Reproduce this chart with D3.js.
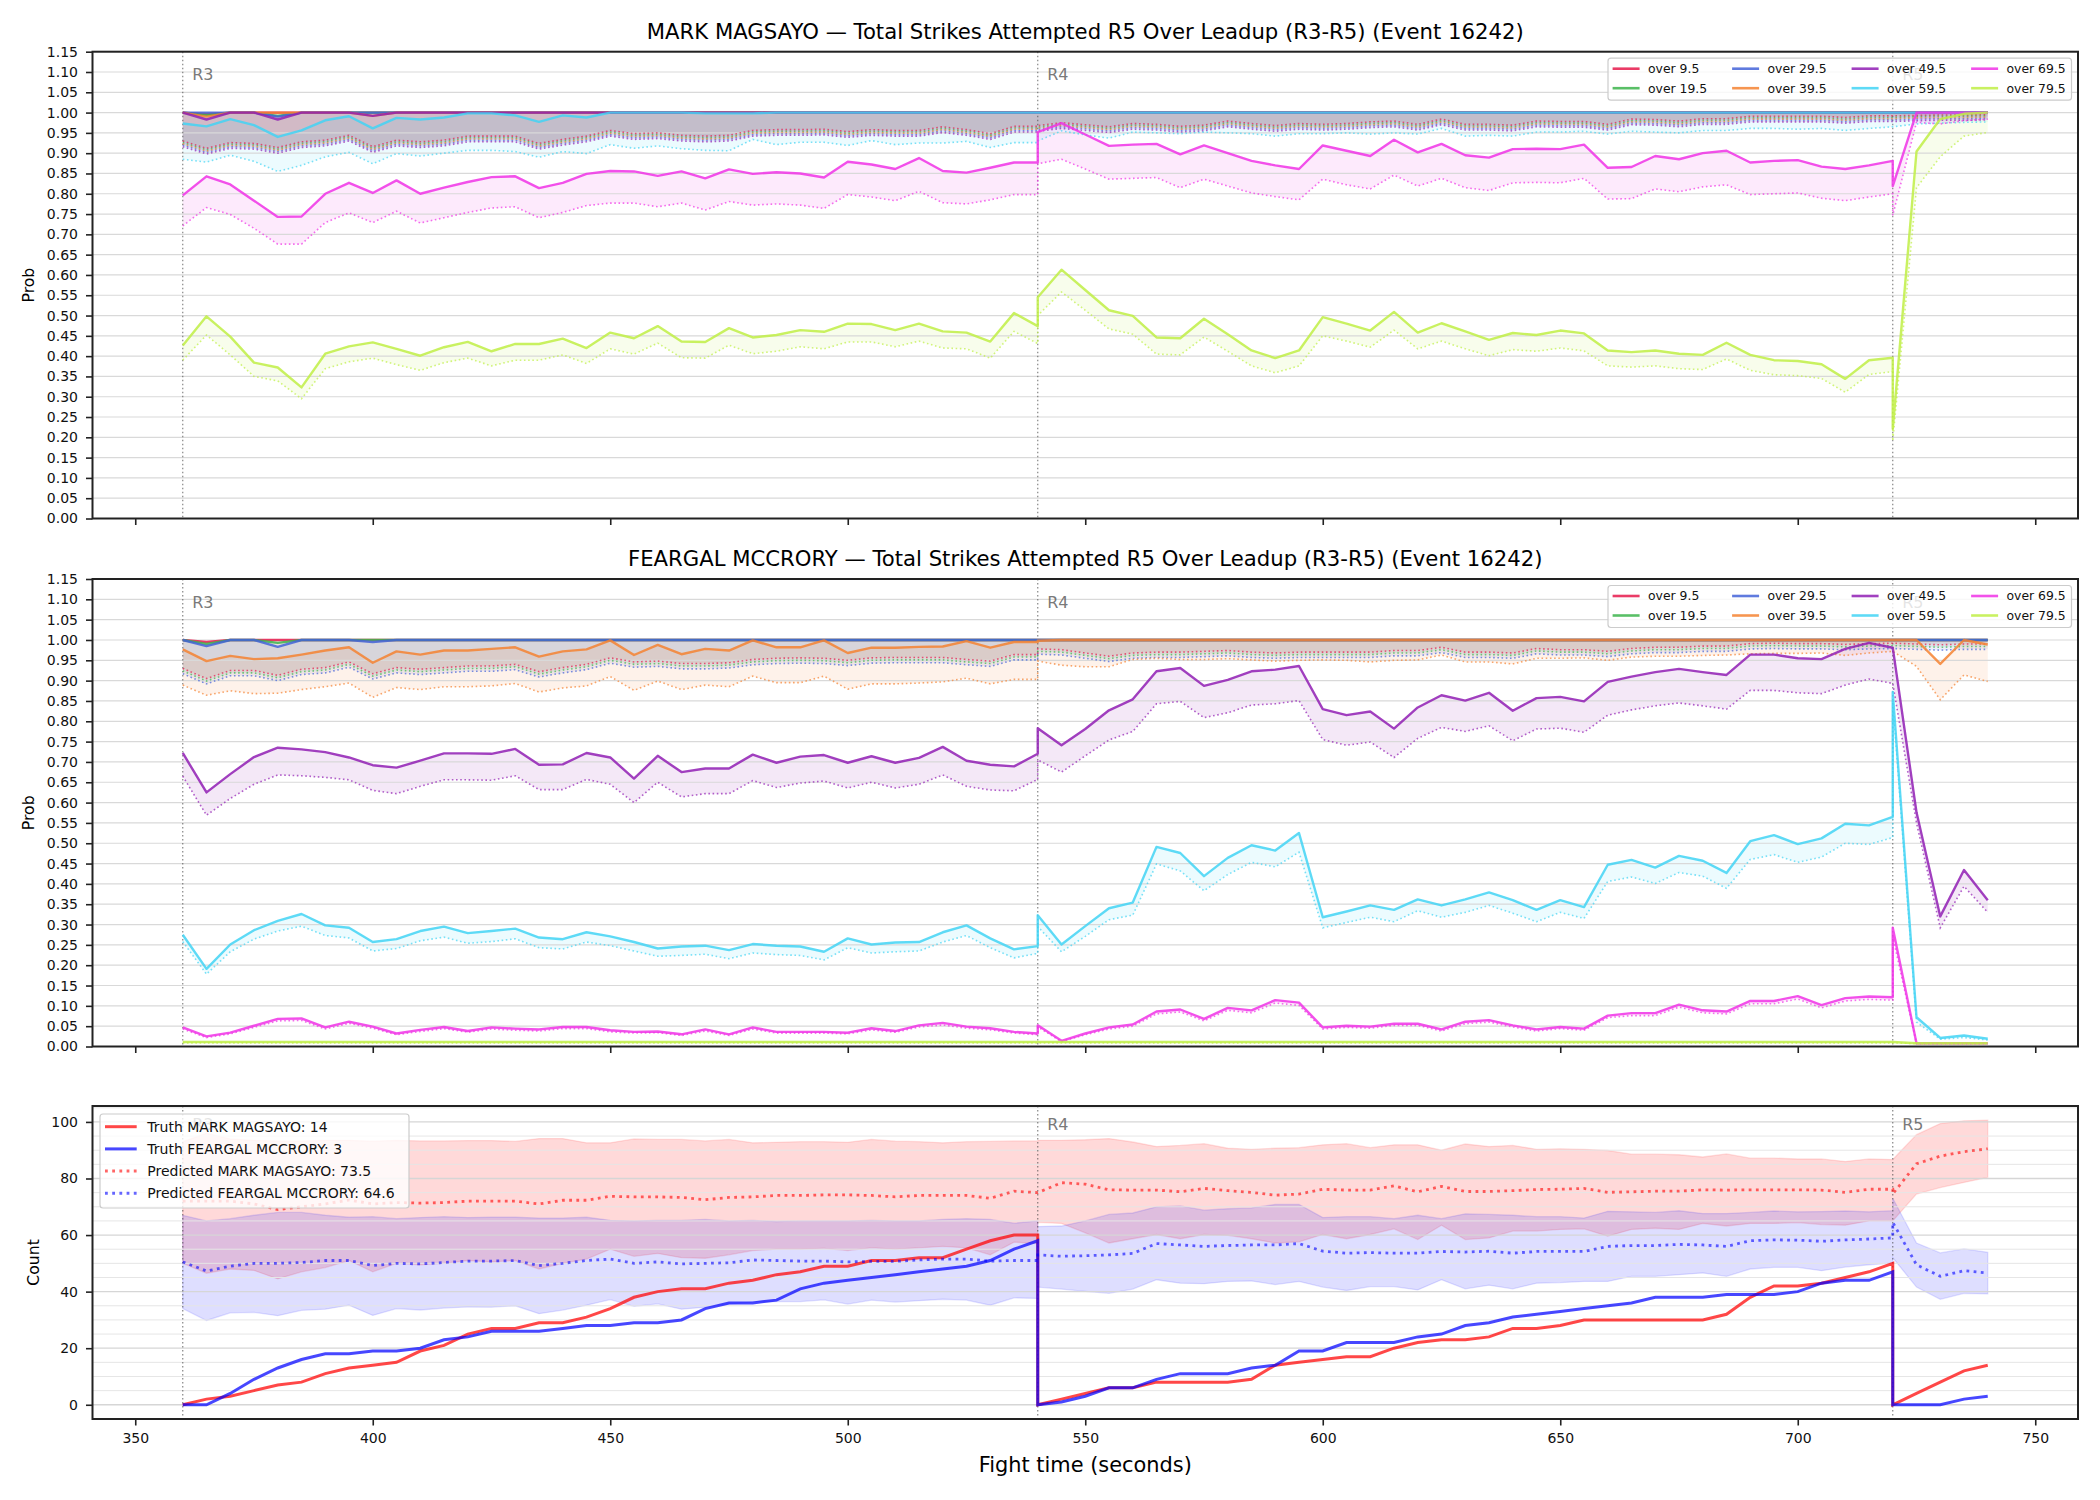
<!DOCTYPE html>
<html lang="en">
<head>
<meta charset="UTF-8">
<title>strikes attempted leadup</title>
<script src="https://cdn.jsdelivr.net/npm/d3@7"></script>
<style>
  * { padding: 0; margin: 0; }
  body { background: #fff; }
  svg { display: block; font-family: "DejaVu Sans", sans-serif; }
</style>
</head>
<body>
<svg id="chart" width="2100" height="1500"></svg>
<script>
// fight time, R3 | R4 | R5 (round boundaries appear twice)
const times = [
  360,365,370,375,380,385,390,395,400,405,410,415,420,425,430,435,440,445,450,455,
  460,465,470,475,480,485,490,495,500,505,510,515,520,525,530,535,540,
  540,545,550,555,560,565,570,575,580,585,590,595,600,605,610,615,620,625,630,635,
  640,645,650,655,660,665,670,675,680,685,690,695,700,705,710,715,720,
  720,725,730,735,740
]
const roundStarts = [360, 540, 720]
const roundNames = ['R3', 'R4', 'R5']
const thresholdLabels = ['over 9.5', 'over 19.5', 'over 29.5', 'over 39.5', 'over 49.5', 'over 59.5', 'over 69.5', 'over 79.5']
const thresholdColors = ['#e6194b', '#3cb44b', '#4363d8', '#f58231', '#911eb4', '#42d4f4', '#f032e6', '#bfef45']

// ---- MARK MAGSAYO probabilities (solid / dotted)
const mmSolid9 = [
  1,0.996,1,1,1,1,1,1,1,1, 1,1,1,1,1,1,1,1,1,1, 1,1,1,1,1,1,1,1,1,1, 1,1,1,1,1,1,1,
  1,1,1,1,1,1,1,1,1,1, 1,1,1,1,1,1,1,1,1,1, 1,1,1,1,1,1,1,1,1,1, 1,1,1,1,1,1,1,
  1,1,1,1,1]
const mmSolid19 = [
  1,0.994,1,1,0.992,1,1,1,1,1, 1,1,1,1,1,1,1,1,1,1, 1,1,1,1,1,1,1,1,1,1, 1,1,1,1,1,1,1,
  1,1,1,1,1,1,1,1,1,1, 1,1,1,1,1,1,1,1,1,1, 1,1,1,1,1,1,1,1,1,1, 1,1,1,1,1,1,1,
  1,1,1,1,1]
const mmSolid29 = [
  1,1,1,1,0.99,1,1,1,1,1, 1,1,1,1,1,1,1,1,1,1, 1,1,1,1,1,1,1,1,1,1, 1,1,1,1,1,1,1,
  1,1,1,1,1,1,1,1,1,1, 1,1,1,1,1,1,1,1,1,1, 1,1,1,1,1,1,1,1,1,1, 1,1,1,1,1,1,1,
  1,1,1,1,1]
const mmSolid39 = [
  1,0.99,1,1,1,1,1,1,0.992,1, 1,1,1,1,1,1,1,1,1,1, 1,1,1,1,1,1,1,1,1,1, 1,1,1,1,1,1,1,
  1,1,1,1,1,1,1,1,1,1, 1,1,1,1,1,1,1,1,1,1, 1,1,1,1,1,1,1,1,1,1, 1,1,1,1,1,1,1,
  1,1,1,1,1]
const mmSolid49 = [
  1,0.983,1,1,0.983,1,1,1,0.992,1, 1,1,1,1,1,1,1,1,1,1, 1,1,1,1,1,1,1,1,1,1, 1,1,1,1,1,1,1,
  1,1,1,1,1,1,1,1,1,1, 1,1,1,1,1,1,1,1,1,1, 1,1,1,1,1,1,1,1,1,1, 1,1,1,1,1,1,1,
  1,1,1,1,1]
const mmSolid59 = [
  0.973,0.966,0.984,0.969,0.940,0.956,0.981,0.991,0.961,0.987, 0.983,0.988,0.998,0.998,0.993,0.977,0.993,0.988,1,1,
  1,1,0.998,0.998,0.998,1,1,1,1,1, 1,1,1,1,1,1,1,
  1,1,1,1,1,1,1,1,1,1, 1,1,1,1,1,1,1,1,1,1, 1,1,1,1,1,1,1,1,1,1, 1,1,1,1,1,1,1,
  1,1,1,1,1]
const mmSolid69 = [
  0.796,0.843,0.823,0.783,0.743,0.744,0.800,0.827,0.802,0.833, 0.800,0.815,0.829,0.841,0.843,0.814,0.827,0.849,0.856,0.855,
  0.844,0.855,0.838,0.860,0.849,0.853,0.850,0.840,0.879,0.872, 0.861,0.888,0.856,0.852,0.864,0.877,0.877,
  0.952,0.974,0.946,0.918,0.921,0.923,0.897,0.919,0.900,0.881, 0.870,0.861,0.919,0.906,0.893,0.933,0.902,0.923,0.895,0.889,
  0.910,0.911,0.910,0.921,0.864,0.866,0.893,0.885,0.900,0.906, 0.877,0.881,0.883,0.867,0.861,0.870,0.881,
  0.819,1,1,1,1]
const mmSolid79 = [
  0.426,0.498,0.448,0.384,0.372,0.323,0.406,0.424,0.434,0.418, 0.401,0.422,0.435,0.412,0.430,0.430,0.443,0.420,0.458,0.444,
  0.474,0.436,0.435,0.469,0.446,0.452,0.464,0.460,0.480,0.479, 0.464,0.480,0.461,0.458,0.436,0.506,0.474,
  0.545,0.613,0.563,0.513,0.499,0.446,0.444,0.492,0.454,0.414, 0.395,0.414,0.496,0.480,0.463,0.509,0.458,0.481,0.461,0.440,
  0.457,0.452,0.463,0.456,0.414,0.410,0.414,0.406,0.403,0.433, 0.403,0.390,0.388,0.380,0.344,0.390,0.396,
  0.221,0.904,0.984,0.997,1.0]

const mmDot9 = [
  0.930,0.912,0.926,0.924,0.914,0.928,0.932,0.944,0.916,0.932, 0.928,0.932,0.942,0.942,0.942,0.924,0.934,0.942,0.956,0.948,
  0.950,0.944,0.942,0.944,0.956,0.958,0.958,0.959,0.953,0.958, 0.956,0.956,0.965,0.958,0.948,0.966,0.966,
  0.968,0.975,0.970,0.965,0.973,0.971,0.966,0.969,0.979,0.973, 0.968,0.973,0.971,0.973,0.977,0.979,0.971,0.984,0.971,0.971,
  0.969,0.979,0.978,0.978,0.971,0.984,0.983,0.979,0.985,0.985, 0.991,0.991,0.991,0.991,0.988,0.992,0.992,
  0.992,0.993,0.994,0.994,0.995]
const mmDot19 = [
  0.926,0.908,0.922,0.920,0.910,0.924,0.928,0.940,0.912,0.928, 0.924,0.928,0.938,0.938,0.938,0.920,0.930,0.938,0.952,0.944,
  0.946,0.940,0.938,0.940,0.952,0.954,0.954,0.955,0.949,0.954, 0.952,0.952,0.961,0.954,0.944,0.962,0.962,
  0.964,0.971,0.966,0.961,0.969,0.967,0.962,0.965,0.975,0.969, 0.964,0.969,0.967,0.969,0.973,0.975,0.967,0.980,0.967,0.967,
  0.965,0.975,0.974,0.974,0.967,0.980,0.979,0.975,0.981,0.981, 0.987,0.987,0.987,0.987,0.984,0.988,0.988,
  0.988,0.990,0.991,0.991,0.992]
const mmDot29 = [
  0.920,0.902,0.916,0.914,0.904,0.918,0.922,0.934,0.906,0.922, 0.918,0.922,0.932,0.932,0.932,0.914,0.924,0.932,0.946,0.938,
  0.940,0.934,0.932,0.934,0.946,0.948,0.948,0.949,0.943,0.948, 0.946,0.946,0.955,0.948,0.938,0.956,0.956,
  0.958,0.965,0.960,0.955,0.963,0.961,0.956,0.959,0.969,0.963, 0.958,0.963,0.961,0.963,0.967,0.969,0.961,0.974,0.961,0.961,
  0.959,0.969,0.968,0.968,0.961,0.974,0.973,0.969,0.975,0.975, 0.981,0.981,0.981,0.981,0.978,0.982,0.982,
  0.982,0.984,0.985,0.985,0.986]
const mmDot39 = [
  0.923,0.905,0.919,0.917,0.907,0.921,0.925,0.937,0.909,0.925, 0.921,0.925,0.935,0.935,0.935,0.917,0.927,0.935,0.949,0.941,
  0.943,0.937,0.935,0.937,0.949,0.951,0.951,0.952,0.946,0.951, 0.949,0.949,0.958,0.951,0.941,0.959,0.959,
  0.961,0.968,0.963,0.958,0.966,0.964,0.959,0.962,0.972,0.966, 0.961,0.966,0.964,0.966,0.970,0.972,0.964,0.977,0.964,0.964,
  0.962,0.972,0.971,0.971,0.964,0.977,0.976,0.972,0.978,0.978, 0.984,0.984,0.984,0.984,0.981,0.985,0.985,
  0.985,0.987,0.988,0.988,0.989]
const mmDot49 = [
  0.916,0.898,0.912,0.910,0.900,0.914,0.918,0.930,0.902,0.918, 0.914,0.918,0.928,0.928,0.928,0.910,0.920,0.928,0.942,0.934,
  0.936,0.930,0.928,0.930,0.942,0.944,0.944,0.945,0.939,0.944, 0.942,0.942,0.951,0.944,0.934,0.952,0.952,
  0.954,0.961,0.956,0.951,0.959,0.957,0.952,0.955,0.965,0.959, 0.954,0.959,0.957,0.959,0.963,0.965,0.957,0.970,0.957,0.957,
  0.955,0.965,0.964,0.964,0.957,0.970,0.969,0.965,0.971,0.971, 0.977,0.977,0.977,0.977,0.974,0.978,0.978,
  0.978,0.980,0.981,0.981,0.982]
const mmDot59 = [
  0.885,0.878,0.895,0.880,0.855,0.870,0.891,0.902,0.874,0.899, 0.893,0.900,0.907,0.907,0.904,0.890,0.904,0.899,0.921,0.912,
  0.918,0.911,0.907,0.906,0.934,0.921,0.927,0.927,0.919,0.931, 0.921,0.925,0.925,0.929,0.914,0.926,0.926,
  0.930,0.955,0.945,0.937,0.952,0.950,0.948,0.952,0.950,0.948, 0.942,0.948,0.948,0.950,0.947,0.950,0.947,0.961,0.942,0.944,
  0.942,0.952,0.952,0.954,0.947,0.954,0.952,0.950,0.956,0.956, 0.961,0.961,0.959,0.961,0.956,0.961,0.965,
  0.965,0.972,0.974,0.976,0.977]
const mmDot69 = [
  0.721,0.766,0.749,0.715,0.676,0.676,0.729,0.753,0.729,0.757, 0.728,0.741,0.754,0.765,0.768,0.741,0.754,0.771,0.777,0.777,
  0.768,0.777,0.760,0.781,0.772,0.775,0.772,0.764,0.798,0.792, 0.783,0.806,0.778,0.775,0.785,0.798,0.798,
  0.874,0.885,0.861,0.836,0.838,0.840,0.815,0.836,0.819,0.802, 0.793,0.785,0.836,0.822,0.812,0.846,0.819,0.838,0.815,0.808,
  0.827,0.828,0.827,0.838,0.787,0.788,0.812,0.805,0.817,0.822, 0.798,0.800,0.802,0.789,0.783,0.792,0.800,
  0.747,0.976,0.972,0.980,0.984]
const mmDot79 = [
  0.390,0.452,0.403,0.350,0.339,0.295,0.369,0.386,0.395,0.379, 0.365,0.384,0.395,0.376,0.390,0.390,0.403,0.382,0.418,0.405,
  0.432,0.396,0.395,0.427,0.406,0.412,0.423,0.418,0.435,0.435, 0.423,0.437,0.420,0.418,0.395,0.461,0.431,
  0.500,0.558,0.513,0.467,0.454,0.405,0.403,0.447,0.412,0.376, 0.359,0.376,0.450,0.437,0.422,0.464,0.418,0.437,0.418,0.401,
  0.416,0.412,0.420,0.413,0.376,0.373,0.376,0.369,0.367,0.393, 0.365,0.354,0.352,0.345,0.311,0.355,0.362,
  0.191,0.815,0.891,0.942,0.951]

// ---- FEARGAL MCCRORY probabilities (solid / dotted)
const fmSolid9 = [
  1,0.995,1,1,1,1,1,1,1,1, 1,1,1,1,1,1,1,1,1,1, 1,1,1,1,1,1,1,1,1,1, 1,1,1,1,1,1,1,
  1,1,1,1,1,1,1,1,1,1, 1,1,1,1,1,1,1,1,1,1, 1,1,1,1,1,1,1,1,1,1, 1,1,1,1,1,1,1,
  1,1,1,1,1]
const fmSolid19 = [
  1,0.99,1,1,0.993,1,1,1,1,1, 1,1,1,1,1,1,1,1,1,1, 1,1,1,1,1,1,1,1,1,1, 1,1,1,1,1,1,1,
  1,1,1,1,1,1,1,1,1,1, 1,1,1,1,1,1,1,1,1,1, 1,1,1,1,1,1,1,1,1,1, 1,1,1,1,1,1,1,
  1,1,1,1,1]
const fmSolid29 = [
  1,0.985,1,1,0.983,1,1,1,0.995,1, 1,1,1,1,1,1,1,1,1,1, 1,1,1,1,1,1,1,1,1,1, 1,1,1,1,1,1,1,
  1,1,1,1,1,1,1,1,1,1, 1,1,1,1,1,1,1,1,1,1, 1,1,1,1,1,1,1,1,1,1, 1,1,1,1,1,1,1,
  1,1,1,1,1]
const fmSolid39 = [
  0.977,0.948,0.961,0.953,0.955,0.964,0.974,0.982,0.944,0.972, 0.964,0.974,0.974,0.978,0.982,0.959,0.972,0.977,0.999,0.963,
  0.988,0.965,0.978,0.974,0.999,0.982,0.982,0.999,0.968,0.981, 0.981,0.983,0.984,0.997,0.981,0.995,0.995,
  0.998,1,1,1,1,1,1,1,1,1, 1,1,1,1,1,1,1,1,1,1, 1,1,1,1,1,1,1,1,1,1, 1,1,1,1,1,1,1,
  1,1,0.941,1,0.989]
const fmSolid49 = [
  0.722,0.625,0.670,0.712,0.735,0.731,0.724,0.711,0.692,0.686, 0.703,0.721,0.721,0.720,0.732,0.693,0.694,0.722,0.711,0.659,
  0.715,0.675,0.684,0.684,0.718,0.698,0.713,0.717,0.698,0.714, 0.698,0.710,0.737,0.703,0.693,0.689,0.720,
  0.783,0.741,0.781,0.827,0.854,0.923,0.931,0.887,0.902,0.923, 0.927,0.936,0.830,0.815,0.824,0.782,0.834,0.864,0.851,0.870,
  0.826,0.857,0.860,0.849,0.897,0.910,0.921,0.929,0.921,0.914, 0.964,0.964,0.955,0.953,0.978,0.993,0.981,
  0.981,0.576,0.320,0.434,0.360]
const fmSolid59 = [
  0.275,0.191,0.251,0.286,0.309,0.326,0.298,0.292,0.257,0.264, 0.284,0.295,0.279,0.284,0.290,0.268,0.264,0.281,0.271,0.257,
  0.241,0.246,0.248,0.237,0.252,0.248,0.246,0.233,0.266,0.251, 0.256,0.257,0.281,0.298,0.266,0.239,0.247,
  0.323,0.251,0.296,0.340,0.354,0.491,0.476,0.419,0.464,0.495, 0.482,0.525,0.318,0.332,0.347,0.336,0.362,0.347,0.362,0.379,
  0.360,0.336,0.360,0.343,0.447,0.459,0.440,0.469,0.457,0.427, 0.505,0.520,0.498,0.512,0.548,0.544,0.565,
  0.872,0.072,0.021,0.027,0.019]
const fmSolid69 = [
  0.047,0.025,0.034,0.051,0.068,0.069,0.047,0.061,0.049,0.032, 0.041,0.048,0.038,0.047,0.044,0.042,0.048,0.048,0.040,0.036,
  0.037,0.030,0.042,0.030,0.047,0.036,0.036,0.036,0.034,0.045, 0.038,0.052,0.058,0.049,0.045,0.036,0.032,
  0.052,0.014,0.032,0.047,0.054,0.086,0.091,0.068,0.095,0.089, 0.114,0.108,0.047,0.051,0.049,0.056,0.056,0.042,0.061,0.065,
  0.052,0.042,0.048,0.044,0.076,0.082,0.082,0.103,0.089,0.086, 0.112,0.112,0.124,0.102,0.119,0.123,0.121,
  0.292,0.008,0.008,0.008,0.008]
const fmSolid79 = [
  0.011,0.011,0.011,0.011,0.011,0.011,0.011,0.011,0.011,0.011, 0.011,0.011,0.011,0.011,0.011,0.011,0.011,0.011,0.011,0.011,
  0.011,0.011,0.011,0.011,0.011,0.011,0.011,0.011,0.011,0.011, 0.011,0.011,0.011,0.011,0.011,0.011,0.011,
  0.011,0.011,0.011,0.011,0.011,0.011,0.011,0.011,0.011,0.011, 0.011,0.011,0.011,0.011,0.011,0.011,0.011,0.011,0.011,0.011,
  0.011,0.011,0.011,0.011,0.011,0.011,0.011,0.011,0.011,0.011, 0.011,0.011,0.011,0.011,0.011,0.011,0.011,
  0.011,0.008,0.008,0.008,0.008]

const fmDot9 = [
  0.930,0.905,0.925,0.925,0.913,0.928,0.932,0.946,0.917,0.932, 0.928,0.932,0.936,0.936,0.940,0.922,0.932,0.940,0.956,0.946,
  0.948,0.942,0.942,0.944,0.952,0.955,0.956,0.955,0.950,0.956, 0.957,0.957,0.957,0.952,0.948,0.964,0.964,
  0.978,0.976,0.968,0.960,0.968,0.970,0.970,0.972,0.974,0.970, 0.968,0.970,0.970,0.970,0.970,0.974,0.974,0.982,0.970,0.970,
  0.968,0.979,0.976,0.976,0.972,0.979,0.982,0.982,0.985,0.985, 0.991,0.992,0.991,0.991,0.989,0.991,0.992,
  0.992,0.990,0.988,0.990,0.990]
const fmDot19 = [
  0.924,0.899,0.919,0.919,0.907,0.922,0.926,0.940,0.911,0.926, 0.922,0.926,0.930,0.930,0.934,0.916,0.926,0.934,0.950,0.940,
  0.942,0.936,0.936,0.938,0.946,0.949,0.950,0.949,0.944,0.950, 0.951,0.951,0.951,0.946,0.942,0.958,0.958,
  0.972,0.970,0.962,0.954,0.962,0.964,0.964,0.966,0.968,0.964, 0.962,0.964,0.964,0.964,0.964,0.968,0.968,0.976,0.964,0.964,
  0.962,0.973,0.970,0.970,0.966,0.973,0.976,0.976,0.979,0.979, 0.985,0.986,0.985,0.985,0.983,0.985,0.986,
  0.986,0.984,0.982,0.984,0.984]
const fmDot29 = [
  0.917,0.892,0.912,0.912,0.900,0.915,0.919,0.933,0.904,0.919, 0.915,0.919,0.923,0.923,0.927,0.909,0.919,0.927,0.943,0.933,
  0.935,0.929,0.929,0.931,0.939,0.942,0.943,0.942,0.937,0.943, 0.944,0.944,0.944,0.939,0.935,0.951,0.951,
  0.965,0.963,0.955,0.947,0.955,0.957,0.957,0.959,0.961,0.957, 0.955,0.957,0.957,0.957,0.957,0.961,0.961,0.969,0.957,0.957,
  0.955,0.966,0.963,0.963,0.959,0.966,0.969,0.969,0.972,0.972, 0.978,0.979,0.978,0.978,0.976,0.978,0.979,
  0.979,0.977,0.975,0.977,0.977]
const fmDot39 = [
  0.889,0.864,0.875,0.868,0.869,0.878,0.885,0.894,0.859,0.883, 0.878,0.885,0.885,0.887,0.893,0.872,0.882,0.887,0.910,0.876,
  0.899,0.878,0.889,0.885,0.911,0.895,0.895,0.911,0.879,0.892, 0.892,0.894,0.897,0.906,0.892,0.903,0.903,
  0.948,0.938,0.934,0.934,0.952,0.955,0.952,0.952,0.954,0.951, 0.948,0.950,0.951,0.950,0.946,0.950,0.951,0.963,0.946,0.946,
  0.941,0.955,0.955,0.956,0.950,0.958,0.960,0.960,0.962,0.963, 0.966,0.967,0.967,0.968,0.962,0.968,0.972,
  0.972,0.935,0.853,0.914,0.898]
const fmDot49 = [
  0.665,0.569,0.610,0.645,0.668,0.666,0.662,0.656,0.630,0.622, 0.640,0.656,0.656,0.655,0.666,0.632,0.632,0.657,0.645,0.600,
  0.650,0.614,0.622,0.622,0.654,0.637,0.648,0.653,0.636,0.650, 0.636,0.645,0.668,0.640,0.631,0.629,0.657,
  0.705,0.675,0.715,0.754,0.775,0.843,0.849,0.809,0.821,0.840, 0.843,0.851,0.755,0.741,0.749,0.711,0.758,0.785,0.775,0.789,
  0.752,0.781,0.783,0.773,0.815,0.828,0.838,0.845,0.838,0.830, 0.876,0.876,0.870,0.868,0.889,0.904,0.893,
  0.893,0.550,0.292,0.394,0.330]
const fmDot59 = [
  0.258,0.178,0.233,0.264,0.284,0.296,0.273,0.267,0.235,0.241, 0.260,0.269,0.254,0.258,0.265,0.243,0.240,0.257,0.248,0.235,
  0.222,0.224,0.227,0.216,0.230,0.226,0.224,0.213,0.243,0.230, 0.233,0.235,0.257,0.273,0.243,0.218,0.229,
  0.295,0.233,0.271,0.312,0.323,0.449,0.432,0.383,0.423,0.453, 0.442,0.478,0.292,0.305,0.318,0.307,0.334,0.318,0.330,0.347,
  0.328,0.307,0.330,0.315,0.406,0.417,0.401,0.428,0.419,0.389, 0.460,0.472,0.453,0.466,0.500,0.497,0.514,
  0.850,0.060,0.018,0.022,0.016]
const fmDot69 = [
  0.043,0.022,0.031,0.047,0.063,0.064,0.043,0.057,0.045,0.029, 0.037,0.044,0.035,0.043,0.040,0.038,0.044,0.044,0.036,0.033,
  0.034,0.027,0.038,0.027,0.043,0.033,0.033,0.033,0.031,0.041, 0.035,0.048,0.053,0.045,0.041,0.033,0.029,
  0.048,0.012,0.029,0.043,0.050,0.080,0.085,0.063,0.089,0.083, 0.107,0.101,0.043,0.047,0.045,0.052,0.052,0.038,0.056,0.060,
  0.048,0.038,0.044,0.040,0.071,0.076,0.076,0.097,0.083,0.080, 0.105,0.105,0.117,0.095,0.112,0.116,0.114,
  0.270,0.007,0.007,0.007,0.007]
const fmDot79 = [
  0.009,0.009,0.009,0.009,0.009,0.009,0.009,0.009,0.009,0.009, 0.009,0.009,0.009,0.009,0.009,0.009,0.009,0.009,0.009,0.009,
  0.009,0.009,0.009,0.009,0.009,0.009,0.009,0.009,0.009,0.009, 0.009,0.009,0.009,0.009,0.009,0.009,0.009,
  0.009,0.009,0.009,0.009,0.009,0.009,0.009,0.009,0.009,0.009, 0.009,0.009,0.009,0.009,0.009,0.009,0.009,0.009,0.009,0.009,
  0.009,0.009,0.009,0.009,0.009,0.009,0.009,0.009,0.009,0.009, 0.009,0.009,0.009,0.009,0.009,0.009,0.009,
  0.009,0.007,0.007,0.007,0.007]

// ---- counts
const truthMagsayo = [
  0,2,3,5,7,8,11,13,14,15, 19,21,25,27,27,29,29,31,34,38, 40,41,41,43,44,46,47,49,49,51, 51,52,52,55,58,60,60,
  0,2,4,6,6,8,8,8,8,9, 14,15,16,17,17,20,22,23,23,24, 27,27,28,30,30,30,30,30,30,32, 38,42,42,43,45,47,50,
  0,4,8,12,14]
const truthMccrory = [
  0,0,4,9,13,16,18,18,19,19, 20,23,24,26,26,26,27,28,28,29, 29,30,34,36,36,37,41,43,44,45, 46,47,48,49,51,55,58,
  0,1,3,6,6,9,11,11,11,13, 14,19,19,22,22,22,24,25,28,29, 31,32,33,34,35,36,38,38,38,39, 39,39,40,43,44,44,47,
  0,0,0,2,3]
const predMagsayo = [
  72,72,72,71,69,70,71,72.4,71,71.5, 71.3,71.5,72,72,72,71,72.3,72.3,73.7,73.5, 73.5,73.3,72.5,73.3,73.5,74,74,74.2,74.2,74,
  73.5,74,74,74,73,75.5,75,
  75,78.5,78,76,75.9,75.9,75.3,76.5,75.7,75.1, 74.1,74.5,76.2,75.9,75.9,77.4,75.3,77.2,75.4,75.4, 75.7,76.1,76.2,76.5,75.1,75.3,75.5,75.5,76,75.9,
  76,76,76,75.9,75.1,76.2,76.2,
  74.5,85.2,87.9,89.5,90.5]
const predMccrory = [
  50.5,47.3,49,50,50,50.3,51,51,49.2,50, 49.8,50.3,50.8,50.8,51,49.2,50,51,51.5,50, 50.5,49.8,50,50.2,51.2,51,50.8,50.8,50.5,50.7,
  50.7,51.2,51.5,51.5,50.8,51,51,
  53,52.5,52.7,53,53.5,57,56.5,56,56.3,56.5, 56.5,57,54.3,53.6,53.8,53.6,53.6,54.2,54,54.3, 53.6,54.2,54.2,54.2,56,56.3,56.3,56.7,56.5,56,
  58,58.3,58.2,57.8,58.3,58.6,59,
  64.5,49.5,45.4,47.4,46.6]
const magsayoLow = [
  50,46.5,48,47.5,44.5,47,48.5,51,47,50, 49.5,50,51,50.5,51,48,50,51.5,55,52.5, 53.5,52,51.8,53,54.5,55,55,55.3,54.5,55.5,
  55,55.5,56,55.5,53,57.5,57,
  64.5,64.1,60.8,57.2,58.7,60.2,58.7,60.2,59.9,58.7, 57.2,57.6,60.2,58.7,60.2,62.2,58.4,63.5,58.4,59, 61.4,61.4,62,62.2,59.6,62,62.4,62,64.1,63.2,
  64.1,64.1,64.4,63.7,63.5,65,65,
  65,74.5,76.8,78.6,80.4]
const magsayoHigh = [
  93,96,94,93.5,93.3,93.3,93.5,93.5,93.2,93.5, 93.3,93.3,93.4,93.4,93.1,94.1,94.1,92.6,92.6,94, 93.8,93.8,93.3,93.8,92.6,92.8,93,93,92.8,93.8,
  93.2,93,92.6,93,93.1,93.3,93.3,
  93.5,93.5,93.7,94.1,92.9,91.3,91.7,92.3,90.7,90.3, 90.7,90.9,91.9,92.3,90.9,91.9,91.9,90,92.2,91.3, 91.7,90.3,90.5,90.3,89.9,88.6,88.6,88.4,87.6,88.7,
  87.2,87.2,86.9,86.9,86,86.9,86.7,
  86.7,95.5,99.4,100.4,100.6]
const mccroryLow = [
  34,29.8,32.5,32.7,31.5,33.4,33.8,35.2,31.6,34, 33.5,34.2,34.6,34.5,35,32.2,33.5,35.2,37.2,34.8, 35.7,33.8,34.5,35.6,36.3,36.5,36.5,37.1,35.6,37,
  36.3,36.8,37.3,37,35.2,37.8,37.6,
  41.6,40.9,40.1,39.4,40.9,44.2,43,42.8,43.6,43.8, 42.5,43.6,41.6,40.4,41.8,41.8,40.6,44.2,41,42.3, 41,43,43.2,43.6,43.6,45.4,45.4,46,46.6,45.4,
  48,48.6,48.6,47.4,48.7,49.5,50.1,
  52,41.6,37.3,39.4,39.2]
const mccroryHigh = [
  67,65,65.8,67,68,68,67,66.3,66.5,65.8, 66.2,66.5,66.2,66.3,66.3,66,66,66.3,65.2,65, 65.2,65.2,65.5,65,65.2,64.8,65,65,65,65.2,
  65,65,65.5,65.8,65.5,64.2,65,
  63,63.2,65,67.3,67.8,70,70.3,68.8,69.3,69.6, 70.8,70.8,66.2,66.5,66.5,65.8,67,65.8,67.5,67.3, 67,66.5,66.5,66,68.4,68.2,68,68.6,67.6,67.6,
  68,68.5,68.2,68.3,68.5,68.2,68.6,
  73,57.2,53.7,55.1,53.9]

const xTicks = [350, 400, 450, 500, 550, 600, 650, 700, 750]

const plotLeft = 92.5, plotRight = 2078
const svg = d3.select('#chart')
const tExt = d3.extent(times)
const pad = (tExt[1] - tExt[0]) * 0.05
const x = d3.scaleLinear().domain([tExt[0] - pad, tExt[1] + pad]).range([plotLeft, plotRight])

function roundMarkers (g, top, height) {
  g.append('g').selectAll('line').data(roundStarts).join('line')
    .attr('x1', d => x(d)).attr('x2', d => x(d))
    .attr('y1', top).attr('y2', top + height)
    .attr('stroke', '#444').attr('stroke-opacity', 0.65)
    .attr('stroke-width', 1.2).attr('stroke-dasharray', '1.5,2.5')
}

function roundLabels (g, top, height) {
  g.append('g').selectAll('text').data(roundStarts).join('text')
    .attr('x', d => x(d + 2))
    .attr('y', top + height * 0.03 + 14.5)
    .attr('fill', '#555').attr('fill-opacity', 0.8)
    .style('font-size', '16px')
    .text((d, i) => roundNames[i])
}

function drawFrame (g, top, height, y, yTickValues, yFormat, showXLabels) {
  const ya = g.append('g').attr('transform', `translate(${plotLeft},0)`)
    .call(d3.axisLeft(y).tickValues(yTickValues).tickFormat(yFormat).tickSize(6.5).tickPadding(8))
  const xa = g.append('g').attr('transform', `translate(0,${top + height})`)
    .call(d3.axisBottom(x).tickValues(xTicks).tickFormat(showXLabels ? d3.format('d') : () => '').tickSize(6.5).tickPadding(8))
  for (const a of [ya, xa]) {
    a.select('.domain').remove()
    a.selectAll('line').attr('stroke', '#222').attr('stroke-width', 1.6)
    a.selectAll('text').attr('fill', '#111').style('font-size', '14px').style('font-family', '"DejaVu Sans", sans-serif')
  }
  g.append('rect').attr('x', plotLeft).attr('y', top)
    .attr('width', plotRight - plotLeft).attr('height', height)
    .attr('fill', 'none').attr('stroke', '#222').attr('stroke-width', 2)
}

function drawTitles (g, top, height, title, ylabel, ylabelX) {
  g.append('text').attr('x', (plotLeft + plotRight) / 2).attr('y', top - 13)
    .attr('text-anchor', 'middle').style('font-size', '21.2px').attr('fill', '#000').text(title)
  g.append('text')
    .attr('transform', `translate(${ylabelX},${top + height / 2}) rotate(-90)`)
    .attr('text-anchor', 'middle').style('font-size', '15.7px').attr('fill', '#000').text(ylabel)
}

function drawProbPanel (top, height, title, solids, dots) {
  const g = svg.append('g')
  const y = d3.scaleLinear().domain([0, 1.15]).range([top + height, top])
  const yTicks = d3.range(0, 24).map(i => +(i * 0.05).toFixed(2))

  g.append('defs').append('clipPath').attr('id', 'clip' + Math.round(top))
    .append('rect').attr('x', plotLeft).attr('y', top).attr('width', plotRight - plotLeft).attr('height', height)
  const plot = g.append('g').attr('clip-path', `url(#clip${Math.round(top)})`)

  const rowsOf = k => times.map((t, i) => ({ t, s: solids[k][i], d: dots[k][i] }))
  const area = d3.area().x(d => x(d.t)).y0(d => y(d.d)).y1(d => y(d.s))
  const solidLine = d3.line().x(d => x(d.t)).y(d => y(d.s))
  const dotLine = d3.line().x(d => x(d.t)).y(d => y(d.d))

  // fills sit under the grid, lines above
  thresholdColors.forEach((c, k) => {
    plot.append('path').datum(rowsOf(k)).attr('d', area).attr('fill', c).attr('fill-opacity', 0.1)
  })
  plot.append('g').selectAll('line').data(yTicks).join('line')
    .attr('x1', plotLeft).attr('x2', plotRight)
    .attr('y1', d => y(d)).attr('y2', d => y(d))
    .attr('stroke', '#d9d9d9').attr('stroke-width', 1.2)
  roundMarkers(plot, top, height)
  thresholdColors.forEach((c, k) => {
    const rows = rowsOf(k)
    plot.append('path').datum(rows).attr('d', solidLine)
      .attr('fill', 'none').attr('stroke', c).attr('stroke-opacity', 0.85).attr('stroke-width', 2.4)
      .attr('stroke-linejoin', 'round')
    plot.append('path').datum(rows).attr('d', dotLine)
      .attr('fill', 'none').attr('stroke', c).attr('stroke-opacity', 0.7).attr('stroke-width', 1.6)
      .attr('stroke-dasharray', '1.6,2.6')
  })
  roundLabels(plot, top, height)

  // legend, 4 columns
  const bw = 463.5, bh = 42
  const bx = plotRight - 6.5 - bw, by = top + 6.5
  const lg = g.append('g')
  lg.append('rect').attr('x', bx).attr('y', by).attr('width', bw).attr('height', bh).attr('rx', 3)
    .attr('fill', '#fff').attr('fill-opacity', 0.8).attr('stroke', '#cccccc').attr('stroke-width', 1.2)
  thresholdLabels.forEach((lab, k) => {
    const lx = bx + 4.6 + Math.floor(k / 2) * 119.5
    const ly = by + 10.5 + (k % 2) * 19.5
    lg.append('line').attr('x1', lx).attr('x2', lx + 27).attr('y1', ly).attr('y2', ly)
      .attr('stroke', thresholdColors[k]).attr('stroke-opacity', 0.85).attr('stroke-width', 2.6)
    lg.append('text').attr('x', lx + 35.4).attr('y', ly).attr('dy', '0.35em')
      .style('font-size', '12.4px').attr('fill', '#111').text(lab)
  })

  drawFrame(g, top, height, y, yTicks, d3.format('.2f'), false)
  drawTitles(g, top, height, title, 'Prob', 34)
}

function drawCountPanel (top, height) {
  const g = svg.append('g')
  const all = [].concat(truthMagsayo, truthMccrory, magsayoLow, magsayoHigh, mccroryLow, mccroryHigh)
  const ext = d3.extent(all)
  const m = (ext[1] - ext[0]) * 0.05
  const y = d3.scaleLinear().domain([ext[0] - m, ext[1] + m]).range([top + height, top])
  const rows = times.map((t, i) => ({
    t, ta: truthMagsayo[i], tb: truthMccrory[i], pa: predMagsayo[i], pb: predMccrory[i],
    la: magsayoLow[i], ha: magsayoHigh[i], lb: mccroryLow[i], hb: mccroryHigh[i]
  }))

  const bandA = d3.area().x(d => x(d.t)).y0(d => y(d.la)).y1(d => y(d.ha))
  const bandB = d3.area().x(d => x(d.t)).y0(d => y(d.lb)).y1(d => y(d.hb))
  g.append('path').datum(rows).attr('d', bandA).attr('fill', '#ff0000').attr('fill-opacity', 0.15)
    .attr('stroke', '#ff0000').attr('stroke-opacity', 0.12).attr('stroke-width', 1.3)
  g.append('path').datum(rows).attr('d', bandB).attr('fill', '#0000ff').attr('fill-opacity', 0.13)
    .attr('stroke', '#0000ff').attr('stroke-opacity', 0.12).attr('stroke-width', 1.3)

  const minor = d3.range(-5, 106, 5).filter(v => v % 20 !== 0 && v >= y.domain()[0] && v <= y.domain()[1])
  const major = [0, 20, 40, 60, 80, 100]
  g.append('g').selectAll('line').data(minor).join('line')
    .attr('x1', plotLeft).attr('x2', plotRight).attr('y1', d => y(d)).attr('y2', d => y(d))
    .attr('stroke', '#e6e6e6').attr('stroke-width', 1)
  g.append('g').selectAll('line').data(major).join('line')
    .attr('x1', plotLeft).attr('x2', plotRight).attr('y1', d => y(d)).attr('y2', d => y(d))
    .attr('stroke', '#d6d6d6').attr('stroke-width', 1.3)
  roundMarkers(g, top, height)

  const line = key => d3.line().x(d => x(d.t)).y(d => y(d[key]))
  g.append('path').datum(rows).attr('d', line('ta')).attr('fill', 'none')
    .attr('stroke', '#ff0000').attr('stroke-opacity', 0.72).attr('stroke-width', 3)
  g.append('path').datum(rows).attr('d', line('tb')).attr('fill', 'none')
    .attr('stroke', '#0000ff').attr('stroke-opacity', 0.72).attr('stroke-width', 3)
  g.append('path').datum(rows).attr('d', line('pa')).attr('fill', 'none')
    .attr('stroke', '#ff0000').attr('stroke-opacity', 0.6).attr('stroke-width', 2.8).attr('stroke-dasharray', '2.8,4.4')
  g.append('path').datum(rows).attr('d', line('pb')).attr('fill', 'none')
    .attr('stroke', '#0000ff').attr('stroke-opacity', 0.6).attr('stroke-width', 2.8).attr('stroke-dasharray', '2.8,4.4')
  roundLabels(g, top, height)

  const items = [
    { label: 'Truth MARK MAGSAYO: 14', color: '#ff0000', dash: null, op: 0.72 },
    { label: 'Truth FEARGAL MCCRORY: 3', color: '#0000ff', dash: null, op: 0.72 },
    { label: 'Predicted MARK MAGSAYO: 73.5', color: '#ff0000', dash: '2.8,4.4', op: 0.6 },
    { label: 'Predicted FEARGAL MCCRORY: 64.6', color: '#0000ff', dash: '2.8,4.4', op: 0.6 }
  ]
  const bx = plotLeft + 7.5, by = top + 8
  const lg = g.append('g')
  lg.append('rect').attr('x', bx).attr('y', by).attr('width', 309).attr('height', 94).attr('rx', 3)
    .attr('fill', '#fff').attr('fill-opacity', 0.8).attr('stroke', '#cccccc').attr('stroke-width', 1.2)
  items.forEach((it, i) => {
    const ly = by + 12.7 + i * 22.2
    lg.append('line').attr('x1', bx + 5).attr('x2', bx + 36.7).attr('y1', ly).attr('y2', ly)
      .attr('stroke', it.color).attr('stroke-opacity', it.op).attr('stroke-width', 3)
      .attr('stroke-dasharray', it.dash)
    lg.append('text').attr('x', bx + 47.3).attr('y', ly).attr('dy', '0.35em')
      .style('font-size', '14px').attr('fill', '#111').text(it.label)
  })

  drawFrame(g, top, height, y, major, d3.format('d'), true)
  drawTitles(g, top, height, '', 'Count', 38.5)
  g.append('text').attr('x', (plotLeft + plotRight) / 2).attr('y', 1472)
    .attr('text-anchor', 'middle').style('font-size', '20.9px').attr('fill', '#000')
    .text('Fight time (seconds)')
}

drawProbPanel(51.7, 466.8,
  'MARK MAGSAYO — Total Strikes Attempted R5 Over Leadup (R3-R5) (Event 16242)',
  [mmSolid9, mmSolid19, mmSolid29, mmSolid39, mmSolid49, mmSolid59, mmSolid69, mmSolid79],
  [mmDot9, mmDot19, mmDot29, mmDot39, mmDot49, mmDot59, mmDot69, mmDot79])
drawProbPanel(579, 467.5,
  'FEARGAL MCCRORY — Total Strikes Attempted R5 Over Leadup (R3-R5) (Event 16242)',
  [fmSolid9, fmSolid19, fmSolid29, fmSolid39, fmSolid49, fmSolid59, fmSolid69, fmSolid79],
  [fmDot9, fmDot19, fmDot29, fmDot39, fmDot49, fmDot59, fmDot69, fmDot79])
drawCountPanel(1106, 313)
</script>
</body>
</html>
